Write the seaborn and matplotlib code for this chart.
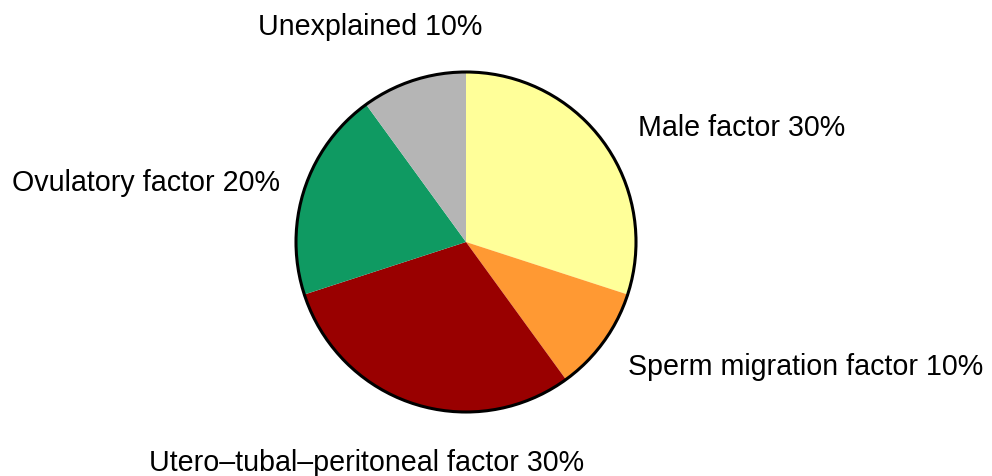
import matplotlib
matplotlib.use("Agg")
import matplotlib.pyplot as plt
from matplotlib.patches import Circle
import seaborn as sns

categories = ["Male factor", "Sperm migration factor", "Utero\u2013tubal\u2013peritoneal factor",
              "Ovulatory factor", "Unexplained"]
shares = [30, 10, 30, 20, 10]
colors = ["#FFFF99", "#FF9933", "#990000", "#0F9A62", "#B5B5B5"]

sns.set_theme(style="white")
plt.rcParams["font.family"] = ["Liberation Sans", "DejaVu Sans"]

fig = plt.figure(figsize=(9.92, 4.77), dpi=100)
ax = fig.add_axes([0, 0, 1, 1])

cx, cy, r = 466, 477 - 243, 170
ax.pie(shares, colors=colors, startangle=90, counterclock=False,
       center=(cx, cy), radius=r, frame=True,
       wedgeprops=dict(linewidth=0, antialiased=True))
ax.set_xlim(0, 992)
ax.set_ylim(0, 477)
ax.set_aspect("equal")
ax.axis("off")
ax.add_patch(Circle((cx, cy), r, fill=False, edgecolor="black", linewidth=2.2))

# label placement: (x, y, horizontal alignment)
label_pos = [
    (638, 477 - 128, "left"),
    (628, 477 - 367, "left"),
    (367, 477 - 463, "center"),
    (280, 477 - 183, "right"),
    (370, 477 - 27, "center"),
]
for name, val, (x, y, ha) in zip(categories, shares, label_pos):
    ax.text(x, y, f"{name} {val}%", ha=ha, va="center", fontsize=20.6, color="black")

fig.savefig("out.png", dpi=100)
